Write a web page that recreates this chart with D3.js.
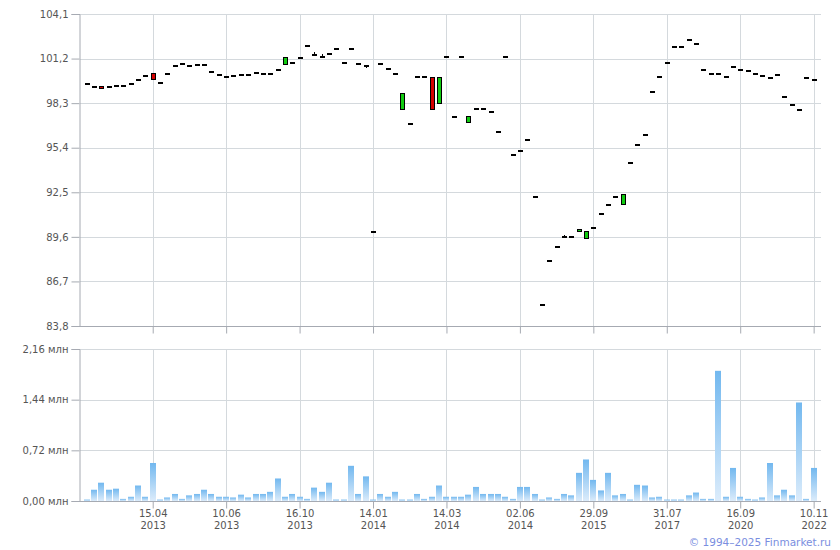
<!DOCTYPE html>
<html>
<head>
<meta charset="utf-8">
<script src="https://cdn.jsdelivr.net/npm/d3@7"></script>
<style>
  html, body { margin: 0; padding: 0; background: #fff; }
  svg { display: block; font-family: "DejaVu Sans", Verdana, sans-serif; }
</style>
</head>
<body>
<svg id="chart" width="840" height="550"></svg>
<script>
// ---- data ----
const open = [
  99.60, 99.43, 99.41, 99.43, 99.45, 99.47, 99.60, 99.86, 100.10, 100.25,
  99.67, 100.27, 100.75, 100.92, 100.77, 100.84, 100.84, 100.40, 100.19, 100.08,
  100.12, 100.19, 100.19, 100.34, 100.27, 100.27, 100.49, 100.84, 100.98, 101.33,
  102.09, 101.50, 101.39, 101.57, 101.92, 100.98, 101.90, 100.92, 100.77, 90.00,
  100.92, 100.58, 100.27, 97.95, 97.01, 100.06, 100.06, 99.99, 98.28, 101.35,
  97.46, 101.35, 97.07, 97.98, 97.98, 97.79, 96.49, 101.35, 95.00, 95.25,
  95.97, 92.27, 85.26, 88.11, 89.02, 89.67, 89.67, 89.99, 89.52, 90.26,
  91.14, 91.75, 92.29, 91.72, 94.48, 95.64, 96.29, 99.08, 100.06, 100.97,
  102.00, 102.00, 102.46, 102.20, 100.51, 100.27, 100.27, 100.06, 100.71, 100.51,
  100.45, 100.27, 100.12, 99.99, 100.19, 98.76, 98.24, 97.95, 99.99, 99.90
];
const close = [
  99.60, 99.43, 99.28, 99.43, 99.45, 99.47, 99.60, 99.86, 100.10, 99.90,
  99.67, 100.27, 100.75, 100.92, 100.77, 100.84, 100.84, 100.40, 100.19, 100.08,
  100.12, 100.19, 100.19, 100.34, 100.27, 100.27, 100.49, 101.33, 100.98, 101.33,
  102.09, 101.50, 101.39, 101.57, 101.92, 100.98, 101.90, 100.92, 100.77, 90.00,
  100.92, 100.58, 100.27, 98.95, 97.01, 100.06, 100.06, 97.95, 99.99, 101.35,
  97.46, 101.35, 97.46, 97.98, 97.98, 97.79, 96.49, 101.35, 95.00, 95.25,
  95.97, 92.27, 85.26, 88.11, 89.02, 89.67, 89.67, 90.12, 89.99, 90.26,
  91.14, 91.75, 92.29, 92.40, 94.48, 95.64, 96.29, 99.08, 100.06, 100.97,
  102.00, 102.00, 102.46, 102.20, 100.51, 100.27, 100.27, 100.06, 100.71, 100.51,
  100.45, 100.27, 100.12, 99.99, 100.19, 98.76, 98.24, 97.95, 99.99, 99.90
];
// small wicks (extra above / below the body) where visible
const wickUp = { 4: 0.06, 12: 0.06, 31: 0.10, 32: 0.12, 65: 0.06 };
const wickDown = { 4: 0.06, 12: 0.0, 31: 0.10, 36: 0.10, 38: 0.10, 70: 0.08, 97: 0.10 };

// volume, millions
const volume = [
  0.02, 0.16, 0.26, 0.16, 0.175, 0.03, 0.06, 0.22, 0.06, 0.54,
  0.02, 0.05, 0.10, 0.03, 0.08, 0.10, 0.16, 0.10, 0.06, 0.06,
  0.05, 0.09, 0.05, 0.10, 0.10, 0.13, 0.32, 0.06, 0.10, 0.06,
  0.03, 0.19, 0.13, 0.26, 0.02, 0.02, 0.50, 0.10, 0.35, 0.02,
  0.10, 0.06, 0.13, 0.02, 0.02, 0.10, 0.03, 0.06, 0.22, 0.06,
  0.06, 0.06, 0.09, 0.20, 0.10, 0.10, 0.10, 0.06, 0.03, 0.20,
  0.20, 0.10, 0.02, 0.05, 0.03, 0.10, 0.08, 0.40, 0.59, 0.30,
  0.15, 0.40, 0.08, 0.10, 0.02, 0.23, 0.22, 0.05, 0.06, 0.02,
  0.02, 0.02, 0.08, 0.12, 0.03, 0.03, 1.85, 0.06, 0.47, 0.06,
  0.03, 0.02, 0.05, 0.54, 0.08, 0.16, 0.08, 1.40, 0.03, 0.47
];

const xTickIndex = [9, 19, 29, 39, 49, 59, 69, 79, 89, 99];
const xTickDay = ["15.04", "10.06", "16.10", "14.01", "14.03", "02.06", "29.09", "31.07", "16.09", "10.11"];
const xTickYear = ["2013", "2013", "2013", "2014", "2014", "2014", "2015", "2017", "2020", "2022"];
const priceTicks = [83.8, 86.7, 89.6, 92.5, 95.4, 98.3, 101.2, 104.1];
const volumeTicks = [0, 0.72, 1.44, 2.16];

// ---- layout ----
const svg = d3.select("#chart");
const left = 80, right = 821;
const gridColor = "#d4d9dd", axisColor = "#a6aab2", textColor = "#555";

const x = d3.scaleLinear().domain([-0.9, 100]).range([left, right]);
const yP = d3.scaleLinear().domain([83.8, 104.1]).range([326, 14]);
const yV = d3.scaleLinear().domain([0, 2.16]).range([501, 349]);

const fmt1 = v => d3.format(".1f")(v).replace(".", ",");
const fmt2 = v => d3.format(".2f")(v).replace(".", ",") + " млн";

function panel(y, ticks, fmt, top, bottom) {
  const g = svg.append("g");
  g.selectAll("line.h").data(ticks).enter().append("line")
    .attr("x1", left).attr("x2", right)
    .attr("y1", d => Math.round(y(d)) + 0.5).attr("y2", d => Math.round(y(d)) + 0.5)
    .attr("stroke", gridColor);
  g.selectAll("line.v").data(xTickIndex).enter().append("line")
    .attr("x1", d => Math.round(x(d)) + 0.5).attr("x2", d => Math.round(x(d)) + 0.5)
    .attr("y1", top).attr("y2", bottom)
    .attr("stroke", gridColor);
  const ay = svg.append("g").attr("transform", `translate(${left - 0.5},0)`)
    .call(d3.axisLeft(y).tickValues(ticks).tickFormat(fmt).tickSize(8).tickPadding(3));
  ay.select(".domain").attr("stroke", axisColor);
  ay.selectAll(".tick line").attr("stroke", axisColor);
  ay.selectAll(".tick text").attr("fill", textColor).style("font-size", "10px")
    .style("font-family", "'DejaVu Sans', Verdana, sans-serif");
  const ax = svg.append("g").attr("transform", `translate(0,${Math.round(bottom) + 0.5})`)
    .call(d3.axisBottom(x).tickValues(xTickIndex).tickFormat("").tickSize(7).tickSizeOuter(0));
  ax.select(".domain").attr("stroke", axisColor).attr("d", `M${left},0H${right}`);
  ax.selectAll(".tick line").attr("stroke", axisColor);
  return ax;
}

panel(yP, priceTicks, fmt1, 14, 326);
panel(yV, volumeTicks, fmt2, 349, 501);

// x labels under volume panel
const lab = svg.append("g").attr("fill", textColor).style("font-size", "10px").attr("text-anchor", "middle");
lab.selectAll("text.d").data(xTickIndex).enter().append("text")
  .attr("x", d => x(d) + 0.5).attr("y", 517).text((d, i) => xTickDay[i]);
lab.selectAll("text.y").data(xTickIndex).enter().append("text")
  .attr("x", d => x(d) + 0.5).attr("y", 529).text((d, i) => xTickYear[i]);

// ---- volume bars ----
const defs = svg.append("defs");
const grad = defs.append("linearGradient").attr("id", "vg")
  .attr("x1", 0).attr("y1", 0).attr("x2", 0).attr("y2", 1);
grad.append("stop").attr("offset", "0%").attr("stop-color", "#72b8ef");
grad.append("stop").attr("offset", "100%").attr("stop-color", "#dcecfb");

svg.append("g").selectAll("rect").data(volume).enter().append("rect")
  .attr("x", (d, i) => Math.round(x(i) - 3))
  .attr("width", 6)
  .attr("y", d => yV(d))
  .attr("height", d => Math.max(0, yV(0) - yV(d)))
  .attr("fill", "url(#vg)");

// ---- candles ----
const cg = svg.append("g").attr("shape-rendering", "crispEdges");
open.forEach((o, i) => {
  const c = close[i];
  const hi = Math.max(o, c) + (wickUp[i] || 0);
  const lo = Math.min(o, c) - (wickDown[i] || 0);
  const cx = Math.round(x(i)) + 0.5;
  if (hi > Math.max(o, c) || lo < Math.min(o, c)) {
    cg.append("line").attr("x1", cx).attr("x2", cx)
      .attr("y1", Math.round(yP(hi))).attr("y2", Math.round(yP(lo)) + 1).attr("stroke", "#000");
  }
  if (o === c) {
    // doji: short black dash
    cg.append("rect")
      .attr("x", cx - 2.5).attr("width", 5)
      .attr("y", Math.round(yP(o))).attr("height", 1.5)
      .attr("fill", "#000");
  } else {
    const top = Math.round(yP(Math.max(o, c))) + 0.5;
    const bot = Math.round(yP(Math.min(o, c))) + 0.5;
    const fill = c > o ? "#11cc11" : "#d40000";
    cg.append("rect")
      .attr("x", cx - 2).attr("width", 4)
      .attr("y", top).attr("height", Math.max(1, bot - top))
      .attr("fill", fill).attr("stroke", "#000").attr("stroke-width", 1);
  }
});

// copyright
svg.append("text").attr("x", 831).attr("y", 546).attr("text-anchor", "end")
  .attr("fill", "#7a8ee0").style("font-size", "10.5px")
  .text("© 1994–2025 Finmarket.ru");
</script>
</body>
</html>
